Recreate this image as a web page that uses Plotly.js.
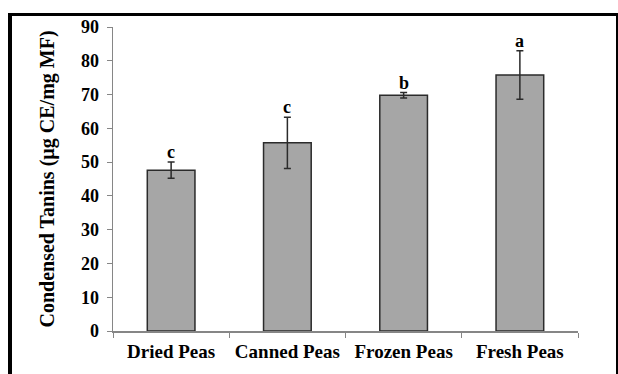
<!DOCTYPE html>
<html>
<head>
<meta charset="utf-8">
<script src="https://cdn.plot.ly/plotly-3.0.1.min.js"></script>
<style>
  html, body { margin: 0; padding: 0; background: #fff; overflow: hidden; }
  #chart { width: 618px; height: 374px; position: absolute; left: 0; top: 0; }
  #frame { position: absolute; left: 8px; top: 13px; width: 604px; height: 400px;
           border-left: 4px solid #000; border-top: 3px solid #000; border-right: 2px solid #000;
           pointer-events: none; }
</style>
</head>
<body>
<div id="chart"></div>
<div id="frame"></div>
<script>
const categories = ["Dried Peas", "Canned Peas", "Frozen Peas", "Fresh Peas"];
const values = [47.6, 55.7, 69.8, 75.8];
const errors = [2.4, 7.6, 0.8, 7.2];
const letters = ["c", "c", "b", "a"];
const yTicks = [0, 10, 20, 30, 40, 50, 60, 70, 80, 90];

const fontFam = "'Liberation Serif', 'Times New Roman', serif";

const trace = {
  type: "bar",
  x: categories,
  y: values,
  width: 0.41,
  marker: { color: "#A6A6A6", line: { color: "#2b2b2b", width: 1.5 } },
  error_y: { type: "data", array: errors, visible: true, color: "#2b2b2b", thickness: 1.5, width: 3.5 },
  hoverinfo: "skip"
};

const annotations = categories.map((c, i) => ({
  x: c, y: values[i] + errors[i], xref: "x", yref: "y",
  text: "<b>" + letters[i] + "</b>", showarrow: false,
  yanchor: "bottom", yshift: -1, borderpad: 0,
  font: { family: fontFam, size: 18, color: "#000" }
}));

const layout = {
  width: 618, height: 374,
  margin: { l: 113, r: 40, t: 27, b: 43, pad: 0 },
  paper_bgcolor: "rgba(0,0,0,0)",
  plot_bgcolor: "#fff",
  showlegend: false,
  bargap: 0.59,
  xaxis: {
    type: "category",
    showline: true, linecolor: "#868686", linewidth: 1.5,
    ticks: "outside", tickson: "boundaries", ticklen: 5, tickcolor: "#868686", tickwidth: 1,
    ticklabelstandoff: 3,
    tickfont: { family: fontFam, size: 19, color: "#000", weight: "bold" },
    showgrid: false, zeroline: false
  },
  yaxis: {
    range: [0, 90],
    tickvals: yTicks,
    ticktext: yTicks.map(String),
    showline: true, linecolor: "#868686", linewidth: 1.5,
    ticks: "outside", ticklen: 5, tickcolor: "#868686", tickwidth: 1,
    ticklabelstandoff: 4,
    tickfont: { family: fontFam, size: 18, color: "#000", weight: "bold" },
    showgrid: false, zeroline: false,
    title: { text: "<b>Condensed Tanins (µg CE/mg MF)</b>", standoff: 21,
             font: { family: fontFam, size: 20, color: "#000" } }
  },
  annotations: annotations
};

Plotly.newPlot("chart", [trace], layout, { staticPlot: true, displayModeBar: false });
</script>
</body>
</html>
